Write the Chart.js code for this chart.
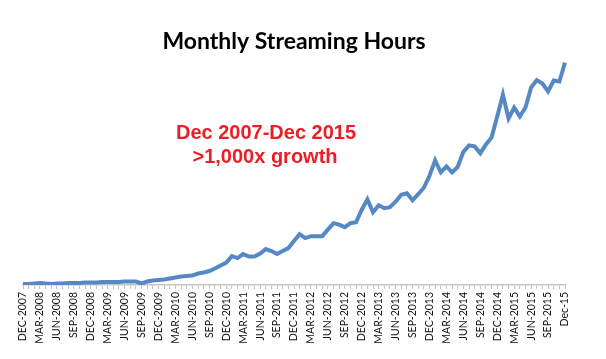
<!DOCTYPE html>
<html>
<head>
<meta charset="utf-8">
<script src="https://cdn.jsdelivr.net/npm/chart.js@4.4.1/dist/chart.umd.min.js"></script>
<style>
  html, body { margin: 0; padding: 0; background: #fff; }
  #wrap { width: 606px; height: 359px; }
</style>
</head>
<body>
<div id="wrap"><canvas id="graficoHoras"></canvas></div>
<script>
// rotulos do eixo x (um a cada 3 meses)
var rotulosEixo = [
  "DEC-2007", "MAR-2008", "JUN-2008", "SEP-2008", "DEC-2008", "MAR-2009", "JUN-2009",
  "SEP-2009", "DEC-2009", "MAR-2010", "JUN-2010", "SEP-2010", "DEC-2010", "MAR-2011",
  "JUN-2011", "SEP-2011", "DEC-2011", "MAR-2012", "JUN-2012", "SEP-2012", "DEC-2012",
  "MAR-2013", "JUN-2013", "SEP-2013", "DEC-2013", "MAR-2014", "JUN-2014", "SEP-2014",
  "DEC-2014", "MAR-2015", "JUN-2015", "SEP-2015", "Dec-15"
];

// horas de streaming por mes, dez/2007 ate dez/2015 (escala relativa)
var horas = [
  1, 1, 1.5, 2, 1.5, 1, 1.5, 1.5, 2, 2, 2, 2.5,
  2.5, 2.5, 3, 3, 3, 3, 3.5, 3.5, 3.5, 1.5, 3.5, 4.5,
  5, 5.5, 6.5, 7.5, 8.5, 9, 9.5, 11.5, 12.5, 14, 16.5, 19.5,
  22.5, 29, 27, 31, 28.5, 28.5, 31.5, 36, 34, 31, 34, 37,
  44, 51, 47, 49, 49, 49, 55.5, 62, 60.5, 58, 62, 63,
  75.5, 86, 73, 80, 77, 78, 83.5, 90.5, 92, 85, 91, 97.5,
  109.5, 125, 113, 119, 113, 118.5, 133.5, 140, 139, 132, 141, 148,
  169, 191, 167, 178, 169, 178, 198, 205.5, 202, 194, 205, 204,
  223
];

var titulo = "Monthly Streaming Hours";
var anotacao = ["Dec 2007-Dec 2015", ">1,000x growth"];

var nomesMes = ["JAN", "FEB", "MAR", "APR", "MAY", "JUN", "JUL", "AUG", "SEP", "OCT", "NOV", "DEC"];
var meses = [];
for (var i = 0; i < horas.length; i++) {
  var m = (11 + i) % 12;
  var a = 2007 + Math.floor((11 + i) / 12);
  meses.push(nomesMes[m] + "-" + a);
}

// texto vermelho no meio do grafico
var textoAnotacao = {
  id: "textoAnotacao",
  afterDraw: function (chart) {
    var ctx = chart.ctx;
    ctx.save();
    ctx.fillStyle = "#ee1c25";
    ctx.font = "bold 20px 'Liberation Sans', Arial, sans-serif";
    ctx.textAlign = "center";
    ctx.textBaseline = "middle";
    ctx.fillText(anotacao[0], 266, 133);
    ctx.fillText(anotacao[1], 265, 157);
    ctx.restore();
  }
};

const ctx = document.getElementById("graficoHoras").getContext("2d");

const grafico = new Chart(ctx, {
  type: "line",
  data: {
    labels: meses,
    datasets: [
      {
        label: "Streaming hours",
        data: horas,
        borderColor: "#5588c4",
        borderWidth: 4,
        pointRadius: 0,
        tension: 0,
        fill: false
      }
    ]
  },
  options: {
    responsive: true,
    maintainAspectRatio: false,
    animation: false,
    layout: {
      padding: { left: 23, right: 41, top: 0, bottom: 0 }
    },
    plugins: {
      legend: { display: false },
      tooltip: { enabled: false },
      title: {
        display: true,
        text: titulo,
        color: "#000",
        font: { family: "Lato", size: 23, weight: "bold" },
        padding: { top: 28, bottom: 5 }
      }
    },
    scales: {
      x: {
        offset: false,
        grid: {
          display: true,
          drawOnChartArea: false,
          color: "#c4c4c4",
          tickLength: 4
        },
        border: { display: true, color: "#c4c4c4", width: 1.5 },
        ticks: {
          autoSkip: false,
          maxRotation: 90,
          minRotation: 90,
          padding: 3,
          color: "#111",
          font: { family: "Lato", size: 10.5 },
          callback: function (valor, indice) {
            return indice % 3 === 0 ? rotulosEixo[indice / 3] : "";
          }
        },
        afterFit: function (escala) {
          escala.height = 74;
        }
      },
      y: {
        display: false,
        min: 0,
        max: 225
      }
    }
  },
  plugins: [textoAnotacao]
});
</script>
</body>
</html>
